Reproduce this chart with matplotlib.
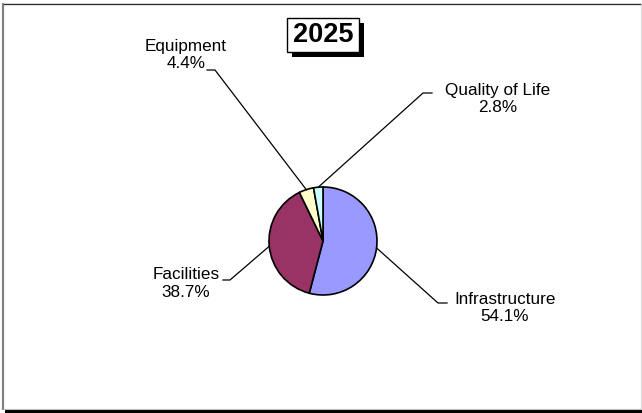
import matplotlib
matplotlib.use("Agg")
import matplotlib.pyplot as plt
import numpy as np
from matplotlib.patches import Rectangle

# Budget shares for 2025
categories = ["Infrastructure", "Facilities", "Equipment", "Quality of Life"]
shares = [54.1, 38.7, 4.4, 2.8]
colors = ["#9999FF", "#993366", "#FFFFCC", "#CCFFFF"]
title_text = "2025"

W, H = 642, 413
fig = plt.figure(figsize=(W / 100, H / 100), dpi=100)
ax = fig.add_axes([0, 0, 1, 1])
ax.set_xlim(0, W)
ax.set_ylim(0, H)
ax.set_aspect("equal")
ax.axis("off")

plt.rcParams["font.family"] = ["Liberation Sans", "DejaVu Sans"]

def Y(py):
    # pixel row (from top) -> data y
    return H - py

# chart frame with shadowed bottom edge
ax.plot([3, W - 1], [Y(3.5), Y(3.5)], color="#222222", lw=1.0, solid_capstyle="butt")
ax.plot([3, W - 1], [Y(5), Y(5)], color="#DDDDDD", lw=0.8, solid_capstyle="butt")
ax.plot([3, 3], [Y(3), Y(410)], color="#808080", lw=1.6, solid_capstyle="butt")
ax.plot([W - 1.5, W - 1.5], [Y(4), Y(409)], color="#DDDDDD", lw=0.9, solid_capstyle="butt")
ax.plot([3, W - 1], [Y(409), Y(409)], color="#BBBBBB", lw=0.8, solid_capstyle="butt")
ax.add_patch(Rectangle((5, 0), W - 5, 3.2, facecolor="black", edgecolor="none"))

# pie
cx, cy, r = 323, 241, 54
wedges, _ = ax.pie(shares, colors=colors, startangle=90, counterclock=False,
                   center=(cx, Y(cy)), radius=r, frame=True,
                   wedgeprops=dict(edgecolor="black", linewidth=1.2))
ax.set_xlim(0, W)
ax.set_ylim(0, H)
ax.axis("off")

# label layout: (text centre x, text centre y, elbow x, elbow y, line end x)
label_layout = {
    "Infrastructure": (505, 308, 438, 303, 447),
    "Facilities": (186, 283.5, 230, 280, 223),
    "Equipment": (186, 55, 215, 70, 207),
    "Quality of Life": (498, 99, 423, 93, 432),
}

for w, name, val in zip(wedges, categories, shares):
    mid = np.deg2rad((w.theta1 + w.theta2) / 2)
    ex, ey = cx + r * np.cos(mid), Y(cy) + r * np.sin(mid)
    tx, ty, bx, by, hx = label_layout[name]
    ax.plot([ex, bx, hx], [ey, Y(by), Y(by)], color="black", lw=0.9)
    ax.text(tx, Y(ty), f"{name}\n{val:.1f}%", ha="center", va="center",
            multialignment="center", fontsize=12.3, linespacing=1.22,
            color="black")

# boxed title with drop shadow
bx0, by0, bw, bh = 287, 18, 72, 34
ax.add_patch(Rectangle((bx0 + 5, Y(by0 + bh + 5)), bw, bh, facecolor="black",
                       edgecolor="none"))
ax.add_patch(Rectangle((bx0, Y(by0 + bh)), bw, bh, facecolor="white",
                       edgecolor="black", linewidth=1.0))
ax.text(bx0 + bw / 2, Y(by0 + bh / 2) - 0.5, title_text, ha="center", va="center",
        fontsize=19.5, fontweight="bold", color="black")

fig.savefig("out.png", dpi=100)
